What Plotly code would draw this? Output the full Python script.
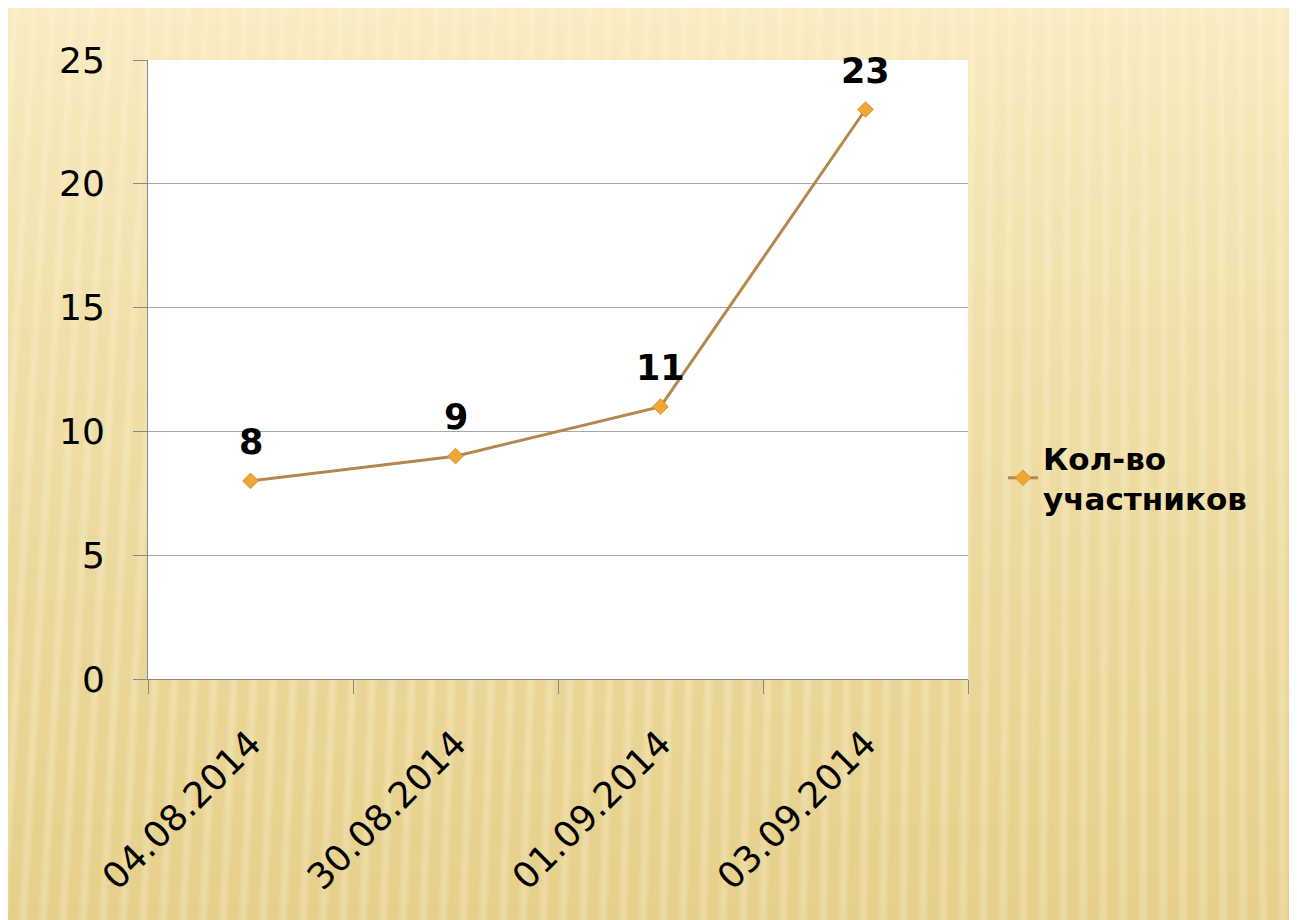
import plotly.graph_objects as go

dates = ["04.08.2014", "30.08.2014", "01.09.2014", "03.09.2014"]
participants = [8, 9, 11, 23]
series_name = "Кол-во<br>участников"
y_ticks = [0, 5, 10, 15, 20, 25]

# page body has an 8px margin; figure fills the rest of the 1297x920 window
W, H = 1289, 912
L, R, T, B = 140, 960, 52, 671

def px(x):
    return (x - L) / (R - L)

def py(y):
    return (B - y) / (B - T)

def lerp(c1, c2, t):
    return "rgb(%d,%d,%d)" % tuple(round(a + (b - a) * t) for a, b in zip(c1, c2))

shapes = []
# background gradient bands
top_c = (249, 236, 194)
bot_c = (229, 207, 138)
band = 16
for y0 in range(0, H, band):
    t = y0 / H
    shapes.append(dict(type="rect", xref="paper", yref="paper",
                       x0=px(-2), x1=px(W + 2), y0=py(min(y0 + band + 1, H + 2)), y1=py(y0 - 1),
                       fillcolor=lerp(top_c, bot_c, t ** 0.8), line=dict(width=0), layer="below"))
# soft light stripes
period = 20
for xs in range(-70, W + 70, period):
    lean = 55 * (1 - xs / W) - 5
    xb, xt = xs, xs + lean
    for w, op in ((10, 0.14), (5, 0.16)):
        off = (10 - w) / 2
        path = "M %f,%f L %f,%f L %f,%f L %f,%f Z" % (
            px(xb + off), py(H + 2), px(xb + off + w), py(H + 2),
            px(xt + off + w), py(-2), px(xt + off), py(-2))
        shapes.append(dict(type="path", xref="paper", yref="paper", path=path,
                           fillcolor="rgba(255,248,222,%.2f)" % op, line=dict(width=0), layer="below"))
# plot area white
shapes.append(dict(type="rect", xref="paper", yref="paper", x0=0, x1=1, y0=0, y1=1,
                   fillcolor="white", line=dict(width=0), layer="below"))

fig = go.Figure()
fig.add_trace(go.Scatter(
    x=dates, y=participants, mode="lines+markers", name=series_name,
    line=dict(color="#B5874F", width=3),
    marker=dict(symbol="diamond", size=12, color="#EFA734", line=dict(color="#D9952C", width=1)),
))

annotations = [dict(x=d, y=v, text=str(v), showarrow=False, yshift=39,
                    font=dict(family="DejaVu Sans", size=35, color="black", weight="bold"))
               for d, v in zip(dates, participants)]

fig.update_layout(
    width=W, height=H,
    margin=dict(l=L, r=W - R, t=T, b=H - B, autoexpand=False),
    paper_bgcolor="#F0DDA5", plot_bgcolor="rgba(0,0,0,0)",
    shapes=shapes, annotations=annotations,
    showlegend=True,
    legend=dict(x=px(995), y=py(470), xanchor="left", yanchor="middle",
                font=dict(family="DejaVu Sans", size=31, color="black", weight="bold"),
                bgcolor="rgba(0,0,0,0)", itemwidth=30, tracegroupgap=0),
    font=dict(family="DejaVu Sans", color="black"),
)
fig.update_xaxes(type="category", range=[-0.5, 3.5], tickson="boundaries", ticks="outside", ticklen=14,
                 tickcolor="#888888", showline=True, linecolor="#888888", linewidth=1,
                 showgrid=False, tickangle=-45, ticklabelstandoff=28,
                 tickfont=dict(family="DejaVu Sans", size=36, color="black"))
fig.update_yaxes(range=[0, 25], tickvals=y_ticks, ticks="outside", ticklen=14,
                 tickcolor="#888888", showline=True, linecolor="#888888", linewidth=1,
                 showgrid=True, gridcolor="#A6A6A6", gridwidth=1, zeroline=False,
                 ticklabelstandoff=21,
                 tickfont=dict(family="DejaVu Sans", size=36, color="black"))

fig.write_html("out.html")
